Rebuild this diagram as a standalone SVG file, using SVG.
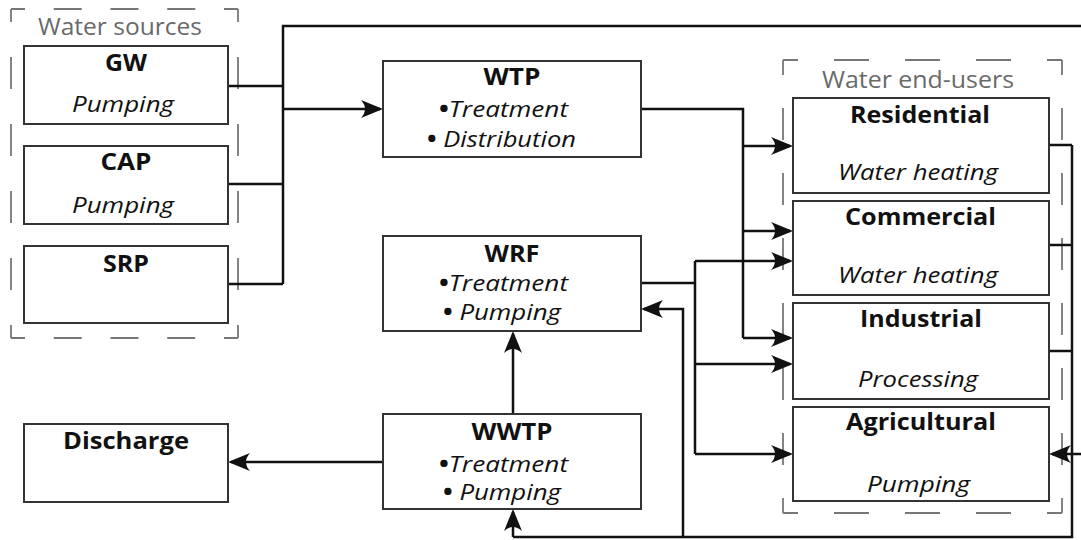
<svg xmlns="http://www.w3.org/2000/svg" width="1081" height="540" viewBox="0 0 1081 540">
<style>
.box{fill:#fff;stroke:#333;stroke-width:2}
.grp{fill:none;stroke:#777;stroke-width:1.8}
.glabel{font-family:"Open Sans","Liberation Sans",sans-serif;font-size:23px;fill:#6a6a6a;text-anchor:middle}
.t{font-family:"Open Sans","Liberation Sans",sans-serif;font-size:22.5px;fill:#111;text-anchor:middle}
.b{font-weight:bold}
.i{font-style:italic}
.n{font-style:normal;font-weight:bold}
.c{fill:none;stroke:#111;stroke-width:2.5}
.a{fill:none;stroke:#111;stroke-width:2.5;marker-end:url(#arr)}
</style>
<defs>
<marker id="arr" viewBox="-22 -9 22 18" refX="-3" refY="0" markerWidth="22" markerHeight="18" markerUnits="userSpaceOnUse" orient="auto">
<path d="M0,0 L-22,-9 Q-14,0 -22,9 Z" fill="#111"/>
</marker>
</defs>
<rect width="1081" height="540" fill="#fff"/>

<g id="water-sources-group">
<path class="grp" d="M11,9 H238" stroke-dasharray="28 28.75" stroke-dashoffset="14"/>
<path class="grp" d="M11,338 H238" stroke-dasharray="28 28.75" stroke-dashoffset="14"/>
<path class="grp" d="M11,9 V338" stroke-dasharray="32 35" stroke-dashoffset="19"/>
<path class="grp" d="M238,9 V338" stroke-dasharray="32 35" stroke-dashoffset="19"/>
<text class="glabel" x="120" y="35" textLength="164" lengthAdjust="spacingAndGlyphs">Water sources</text>
</g>

<g id="end-users-group">
<path class="grp" d="M783,60 H1062" stroke-dasharray="35 36" stroke-dashoffset="20"/>
<path class="grp" d="M783,513 H1062" stroke-dasharray="35 36" stroke-dashoffset="20"/>
<path class="grp" d="M783,60 V513" stroke-dasharray="32 33" stroke-dashoffset="17"/>
<path class="grp" d="M1062,60 V513" stroke-dasharray="32 33" stroke-dashoffset="17"/>
<text class="glabel" x="918" y="88" textLength="192" lengthAdjust="spacingAndGlyphs">Water end-users</text>
</g>

<g id="connectors">
<path class="c" d="M228,86 H283 M228,184 H283 M228,284 H283 M283,284 V26 H1081"/>
<path class="a" d="M283,109 H380"/>
<path class="c" d="M641,109 H743 V338"/>
<path class="a" d="M743,146 H790"/>
<path class="a" d="M743,231 H790"/>
<path class="a" d="M743,338 H790"/>
<path class="c" d="M641,283 H695 M695,261 V454"/>
<path class="a" d="M695,261 H790"/>
<path class="a" d="M695,364 H790"/>
<path class="a" d="M695,454 H790"/>
<path class="c" d="M1049,145 H1072 M1049,245 H1072 M1049,351 H1072 M1072,145 V537 H513"/>
<path class="a" d="M513,537 V512"/>
<path class="a" d="M683,537 V309 H644"/>
<path class="a" d="M1081,454 H1052"/>
<path class="a" d="M513,414 V334"/>
<path class="a" d="M383,462 H231"/>
</g>

<g id="GW">
<rect class="box" x="24" y="46" width="204" height="78"/>
<text class="t b" x="126" y="71" textLength="42" lengthAdjust="spacingAndGlyphs">GW</text>
<text class="t i" x="123" y="112" textLength="102" lengthAdjust="spacingAndGlyphs">Pumping</text>
</g>
<g id="CAP">
<rect class="box" x="24" y="146" width="204" height="78"/>
<text class="t b" x="126" y="170" textLength="51" lengthAdjust="spacingAndGlyphs">CAP</text>
<text class="t i" x="123" y="213" textLength="102" lengthAdjust="spacingAndGlyphs">Pumping</text>
</g>
<g id="SRP">
<rect class="box" x="24" y="246" width="204" height="77"/>
<text class="t b" x="126" y="272" textLength="46" lengthAdjust="spacingAndGlyphs">SRP</text>
</g>
<g id="Discharge">
<rect class="box" x="24" y="424" width="204" height="78"/>
<text class="t b" x="126" y="449" textLength="126" lengthAdjust="spacingAndGlyphs">Discharge</text>
</g>

<g id="WTP">
<rect class="box" x="383" y="61" width="258" height="96"/>
<text class="t b" x="512" y="85" textLength="57" lengthAdjust="spacingAndGlyphs">WTP</text>
<text class="t i" x="503.5" y="117" textLength="129" lengthAdjust="spacingAndGlyphs"><tspan class="n">•</tspan>Treatment</text>
<text class="t i" x="501.5" y="147" textLength="149" lengthAdjust="spacingAndGlyphs"><tspan class="n">•</tspan> Distribution</text>
</g>
<g id="WRF">
<rect class="box" x="383" y="236" width="258" height="95"/>
<text class="t b" x="512" y="262" textLength="55" lengthAdjust="spacingAndGlyphs">WRF</text>
<text class="t i" x="503.5" y="291" textLength="129" lengthAdjust="spacingAndGlyphs"><tspan class="n">•</tspan>Treatment</text>
<text class="t i" x="502" y="320" textLength="118" lengthAdjust="spacingAndGlyphs"><tspan class="n">•</tspan> Pumping</text>
</g>
<g id="WWTP">
<rect class="box" x="383" y="414" width="258" height="95"/>
<text class="t b" x="512" y="440" textLength="81" lengthAdjust="spacingAndGlyphs">WWTP</text>
<text class="t i" x="503.5" y="472" textLength="129" lengthAdjust="spacingAndGlyphs"><tspan class="n">•</tspan>Treatment</text>
<text class="t i" x="502" y="500" textLength="118" lengthAdjust="spacingAndGlyphs"><tspan class="n">•</tspan> Pumping</text>
</g>

<g id="Residential">
<rect class="box" x="793" y="98" width="256" height="95"/>
<text class="t b" x="920" y="123" textLength="140" lengthAdjust="spacingAndGlyphs">Residential</text>
<text class="t i" x="918" y="180" textLength="160" lengthAdjust="spacingAndGlyphs">Water heating</text>
</g>
<g id="Commercial">
<rect class="box" x="793" y="201" width="256" height="94"/>
<text class="t b" x="920.5" y="225" textLength="151" lengthAdjust="spacingAndGlyphs">Commercial</text>
<text class="t i" x="918" y="283" textLength="160" lengthAdjust="spacingAndGlyphs">Water heating</text>
</g>
<g id="Industrial">
<rect class="box" x="793" y="303" width="256" height="96"/>
<text class="t b" x="921" y="327" textLength="122" lengthAdjust="spacingAndGlyphs">Industrial</text>
<text class="t i" x="918" y="387" textLength="120" lengthAdjust="spacingAndGlyphs">Processing</text>
</g>
<g id="Agricultural">
<rect class="box" x="793" y="407" width="256" height="94"/>
<text class="t b" x="921" y="430" textLength="150" lengthAdjust="spacingAndGlyphs">Agricultural</text>
<text class="t i" x="918.5" y="492" textLength="103" lengthAdjust="spacingAndGlyphs">Pumping</text>
</g>
</svg>
